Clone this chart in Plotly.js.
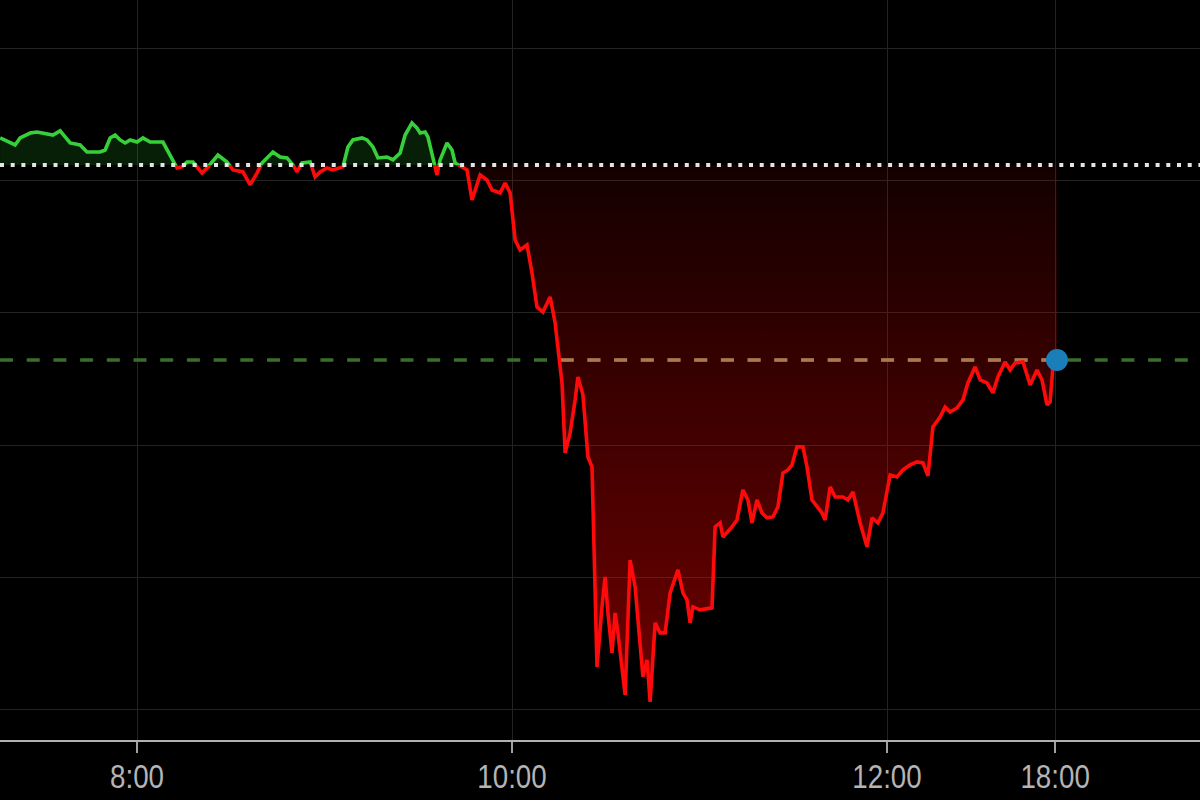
<!DOCTYPE html>
<html><head><meta charset="utf-8">
<script src="https://cdn.plot.ly/plotly-3.0.1.min.js"></script>
<style>html,body{margin:0;padding:0;background:#000;}#chart{width:1200px;height:800px;}</style>
</head><body><div id="chart"></div>
<script>
// session time in chart minutes (8:00 = 60, 10:00 = 180, 12:00 = 300, 18:00 = 353.8)
const timeMin = [
 16.2, 19.4, 21.0, 22.6, 25.8, 28.0, 29.9, 33.1, 35.4, 37.0,
 38.6, 41.8, 44.0, 48.2, 49.8, 51.4, 53.0, 54.6, 56.2, 57.8,
 60.0, 61.9, 64.2, 68.3, 70.6, 72.2, 72.8, 74.4, 76.0, 77.9,
 80.8, 82.7, 85.9, 88.8, 90.7, 93.9, 96.2, 98.4, 100.0, 101.6,
 103.5, 105.8, 108.0, 109.9, 111.2, 112.8, 115.4, 117.0, 118.6, 120.8,
 122.7, 125.9, 127.5, 129.1, 132.0, 133.6, 135.5, 137.1, 140.0, 141.9,
 144.2, 145.8, 148.0, 149.6, 150.6, 152.2, 153.1, 154.7, 156.0, 157.0,
 159.2, 160.8, 161.8, 164.0, 165.6, 167.2, 168.8, 169.8, 172.0, 173.6,
 176.2, 177.8, 179.4, 181.0, 182.6, 184.8, 186.4, 188.0, 189.9, 192.2,
 193.8, 196.0, 197.0, 198.6, 200.2, 201.1, 202.7, 204.3, 205.6, 207.2,
 208.8, 209.8, 210.7, 212.0, 213.0, 213.9, 216.2, 217.8, 219.4, 220.3,
 221.9, 223.2, 224.2, 225.8, 227.4, 229.0, 230.6, 233.1, 234.7, 236.0,
 237.0, 237.9, 240.2, 244.0, 245.0, 246.6, 247.5, 250.4, 252.0, 253.9,
 255.5, 256.8, 258.4, 260.0, 261.6, 263.5, 265.1, 266.7, 268.3, 269.6,
 271.2, 273.1, 274.4, 276.0, 277.6, 279.2, 280.2, 281.8, 283.4, 285.9,
 287.5, 289.1, 291.4, 293.6, 295.2, 297.1, 298.7, 301.0, 303.2, 305.1,
 307.4, 309.6, 311.5, 313.1, 314.7, 317.0, 318.6, 320.2, 322.4, 324.3,
 325.9, 328.2, 329.8, 332.0, 333.9, 335.5, 337.8, 339.4, 341.0, 343.5,
 345.8, 348.0, 349.6, 351.2, 352.2, 353.1, 354.4
];
const price = [
 143.21, 142.90, 142.68, 143.21, 143.58, 143.66, 143.58, 143.43, 143.74, 143.28,
 142.83, 142.68, 142.15, 142.15, 142.30, 143.21, 143.43, 143.06, 142.83, 143.06,
 142.90, 143.21, 142.90, 142.90, 141.92, 141.17, 140.94, 141.02, 141.39, 141.39,
 140.56, 141.02, 141.92, 141.39, 140.79, 140.64, 139.66, 140.56, 141.32, 141.70,
 142.15, 141.77, 141.70, 141.17, 140.64, 141.32, 141.39, 140.26, 140.64, 140.94,
 140.79, 141.02, 142.53, 143.06, 143.21, 143.06, 142.53, 141.70, 141.77, 141.55,
 142.07, 143.43, 144.34, 143.96, 143.58, 143.66, 143.28, 141.70, 140.41, 141.55,
 142.83, 142.30, 141.32, 141.02, 140.79, 138.52, 139.81, 140.41, 140.03, 139.28,
 139.05, 139.81, 139.05, 135.50, 134.75, 135.13, 133.01, 130.44, 130.06, 131.20,
 129.23, 124.70, 119.42, 120.93, 123.42, 125.16, 123.80, 119.11, 118.36, 103.25,
 107.78, 110.05, 107.33, 104.31, 107.33, 105.82, 101.14, 111.33, 109.29, 106.80,
 102.50, 103.78, 100.61, 106.58, 105.82, 105.82, 108.84, 110.58, 108.84, 108.31,
 106.58, 107.78, 107.56, 107.71, 113.83, 114.13, 113.07, 113.83, 114.35, 116.62,
 115.86, 114.13, 115.86, 114.88, 114.51, 114.58, 115.34, 117.90, 118.13, 118.51,
 119.87, 119.87, 118.36, 115.86, 115.34, 114.88, 114.35, 116.85, 116.09, 116.09,
 115.86, 116.47, 114.13, 112.32, 114.51, 114.13, 114.88, 117.75, 117.60, 118.13,
 118.51, 118.74, 118.66, 117.68, 121.38, 122.13, 122.89, 122.51, 122.81, 123.42,
 124.70, 125.91, 124.93, 124.70, 123.95, 125.16, 126.29, 125.68, 126.21, 126.29,
 124.55, 125.68, 124.93, 123.04, 123.27, 125.91, 126.44
];
const prevClose = 141.17;
const refLevel = 126.44;
const yLow = 97.73, yHigh = 153.63;
const xLow = 16.16, xHigh = 400.16;
const tickVals = [60, 180, 300, 353.8];
const tickText = ['8:00', '10:00', '12:00', '18:00'];

const W = 1200, H = 800;
const dBase = (prevClose - yLow) / (yHigh - yLow);
const xFirst = timeMin[0], xLast = timeMin[timeMin.length - 1];
const lastPrice = price[price.length - 1];

// where the series first drops below the reference level
let xc = xLast;
for (let i = 1; i < price.length; i++) {
  if (price[i] < refLevel && price[i - 1] >= refLevel) {
    const t = (price[i - 1] - refLevel) / (price[i - 1] - price[i]);
    xc = timeMin[i - 1] + t * (timeMin[i] - timeMin[i - 1]);
    break;
  }
}
const pxPerX = W / (xHigh - xLow);
const dashPeriod = 26.7;
const tanStart = xLow + Math.ceil((xc - xLow) * pxPerX / dashPeriod) * dashPeriod / pxPerX;

const gridC = '#232323';
const traces = [
  {x: [xFirst, xLast], y: [prevClose, prevClose], yaxis: 'y', mode: 'lines', line: {width: 0}, hoverinfo: 'skip'},
  {x: timeMin, y: price, yaxis: 'y', mode: 'lines', fill: 'tonexty', fillcolor: 'rgba(40,190,40,0.16)',
   line: {color: '#36d03a', width: 3.6}},
  {x: [xFirst, xLast], y: [prevClose, prevClose], yaxis: 'y2', mode: 'lines', line: {width: 0}, hoverinfo: 'skip'},
  {x: timeMin, y: price, yaxis: 'y2', mode: 'lines', fill: 'tonexty', line: {width: 0},
   fillcolor: 'rgba(255,0,0,0.3)',
   fillgradient: {type: 'vertical', start: yLow, stop: prevClose,
     colorscale: [[0, 'rgba(255,0,0,0.46)'], [1, 'rgba(255,0,0,0.08)']]}},
  {x: [xLow, xHigh], y: [refLevel, refLevel], yaxis: 'y2', mode: 'lines',
   line: {color: '#3a6e2c', width: 3.5, dash: '13px,13.7px'}},
  {x: [tanStart, xLast], y: [refLevel, refLevel], yaxis: 'y2', mode: 'lines',
   line: {color: '#b07552', width: 3.5, dash: '13px,13.7px'}},
  {x: timeMin, y: price, yaxis: 'y2', mode: 'lines', line: {color: '#ff0a0a', width: 3.6}},
  {x: [xLast], y: [lastPrice], yaxis: 'y2', mode: 'markers', cliponaxis: false,
   marker: {size: 22, color: '#1a7fb8'}}
];

const yCommon = {anchor: 'x', dtick: 10, tick0: 0, showticklabels: false, showgrid: true,
  gridcolor: gridC, gridwidth: 1, zeroline: false, ticks: '', showline: false, fixedrange: true};

const layout = {
  width: W, height: H, margin: {l: 0, r: 0, t: 0, b: 60},
  paper_bgcolor: '#000', plot_bgcolor: '#000', showlegend: false,
  xaxis: {range: [xLow, xHigh], anchor: 'y2', tickmode: 'array', tickvals: tickVals, ticktext: tickText,
    showgrid: true, gridcolor: gridC, gridwidth: 1, zeroline: false,
    showline: true, linecolor: '#b0b0b0', linewidth: 2,
    ticks: 'outside', ticklen: 11, tickwidth: 1.5, tickcolor: '#a0a0a0', ticklabelstandoff: -5,
    tickfont: {family: '"Liberation Sans", Arial, sans-serif', size: 33, color: '#b4b4b4'}},
  yaxis: Object.assign({domain: [dBase, 1], range: [prevClose, yHigh]}, yCommon),
  yaxis2: Object.assign({domain: [0, dBase], range: [yLow, prevClose]}, yCommon),
  shapes: [
    {type: 'line', xref: 'paper', yref: 'paper', x0: 0, x1: 1, y0: dBase, y1: dBase, layer: 'above',
     line: {color: '#e4e4e4', width: 4, dash: '4px,6.7px'}}
  ]
};

Plotly.newPlot('chart', traces, layout, {displayModeBar: false, staticPlot: true}).then(function () {
  // condensed look of the tick labels
  document.querySelectorAll('.xtick text').forEach(function (t) {
    const w = t.getComputedTextLength();
    t.setAttribute('textLength', (w * 0.84).toFixed(1));
    t.setAttribute('lengthAdjust', 'spacingAndGlyphs');
  });
});
</script>
</body></html>
